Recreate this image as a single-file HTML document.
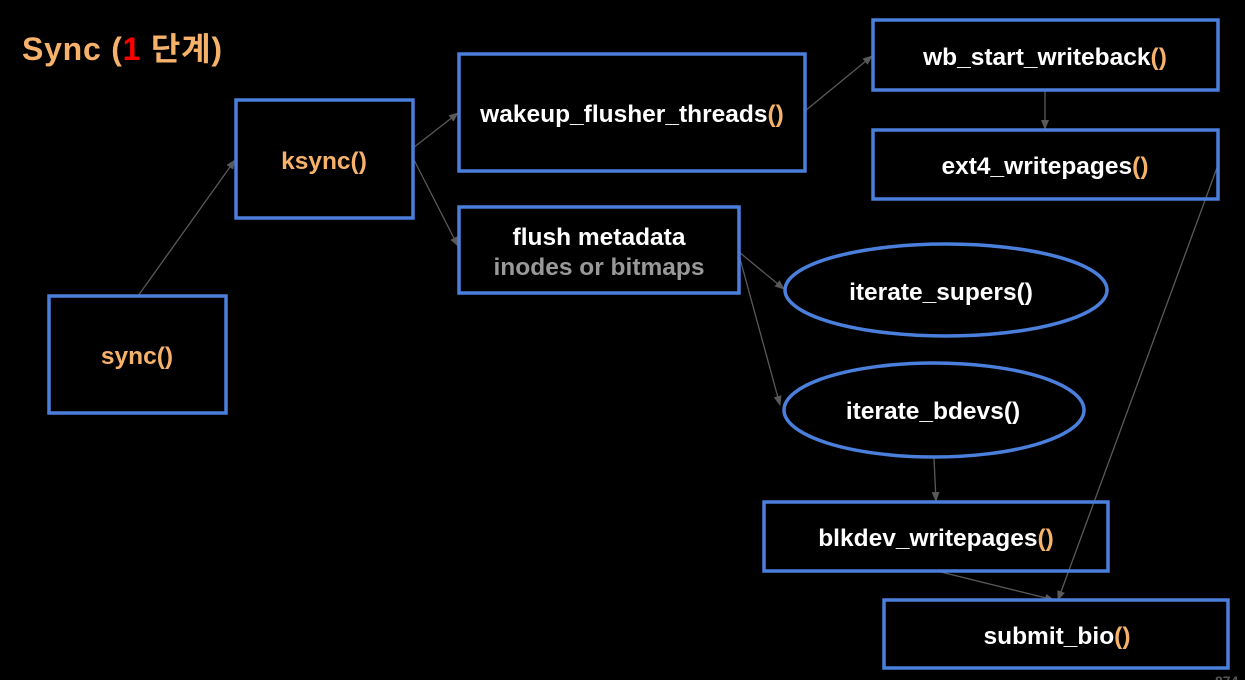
<!DOCTYPE html>
<html><head><meta charset="utf-8"><style>
html,body{margin:0;padding:0;background:#000;width:1245px;height:680px;overflow:hidden}
svg{display:block}
text{font-family:"Liberation Sans","Noto Sans CJK KR",sans-serif;font-weight:bold}
</style></head><body>
<svg width="1245" height="680" viewBox="0 0 1245 680">
<defs><marker id="a" markerWidth="10" markerHeight="10" refX="9" refY="5" orient="auto" markerUnits="userSpaceOnUse"><path d="M0,1 L10,5 L0,9 z" fill="#595959"/></marker></defs>
<g stroke="#595959" stroke-width="1.3" fill="none" marker-end="url(#a)">
<line x1="138" y1="296" x2="235" y2="160"/>
<line x1="413" y1="148" x2="458" y2="113"/>
<line x1="413" y1="158" x2="458" y2="246"/>
<line x1="805" y1="111" x2="872" y2="56"/>
<line x1="1045" y1="91" x2="1045" y2="129"/>
<line x1="739" y1="252" x2="784" y2="289"/>
<line x1="739" y1="255" x2="780" y2="405"/>
<line x1="1218" y1="165" x2="1058" y2="600"/>
<line x1="934" y1="458" x2="936" y2="501"/>
<line x1="937" y1="571" x2="1054" y2="600"/>
</g>
<g stroke="#4a7fdc" stroke-width="3.5" fill="none">
<rect x="49" y="296" width="177" height="117"/>
<rect x="236" y="100" width="177" height="118"/>
<rect x="459" y="54" width="346" height="117"/>
<rect x="459" y="207" width="280" height="86"/>
<rect x="873" y="20" width="345" height="70"/>
<rect x="873" y="130" width="345" height="69"/>
<ellipse cx="946" cy="290" rx="161" ry="46"/>
<ellipse cx="934" cy="410" rx="150" ry="47"/>
<rect x="764" y="502" width="344" height="69"/>
<rect x="884" y="600" width="344" height="68"/>
</g>
<text x="22" y="60" font-size="32" fill="#f6b26b" textLength="200">Sync (<tspan fill="#ff0000">1</tspan> 단계)</text>
<g font-size="24.5" text-anchor="middle" fill="#fff">
<text x="137" y="364" fill="#f6b26b">sync()</text>
<text x="324" y="169" fill="#f6b26b">ksync()</text>
<text x="632" y="122">wakeup_flusher_threads<tspan fill="#f6b26b">()</tspan></text>
<text x="599" y="245">flush metadata</text>
<text x="599" y="275" fill="#999">inodes or bitmaps</text>
<text x="1045" y="65">wb_start_writeback<tspan fill="#f6b26b">()</tspan></text>
<text x="1045" y="174">ext4_writepages<tspan fill="#f6b26b">()</tspan></text>
<text x="941" y="300">iterate_supers()</text>
<text x="933" y="419">iterate_bdevs()</text>
<text x="936" y="546">blkdev_writepages<tspan fill="#f6b26b">()</tspan></text>
<text x="1057" y="644">submit_bio<tspan fill="#f6b26b">()</tspan></text>
</g>
<text x="1215" y="686" font-size="14" fill="#555" font-weight="normal">874</text>
</svg>
</body></html>
